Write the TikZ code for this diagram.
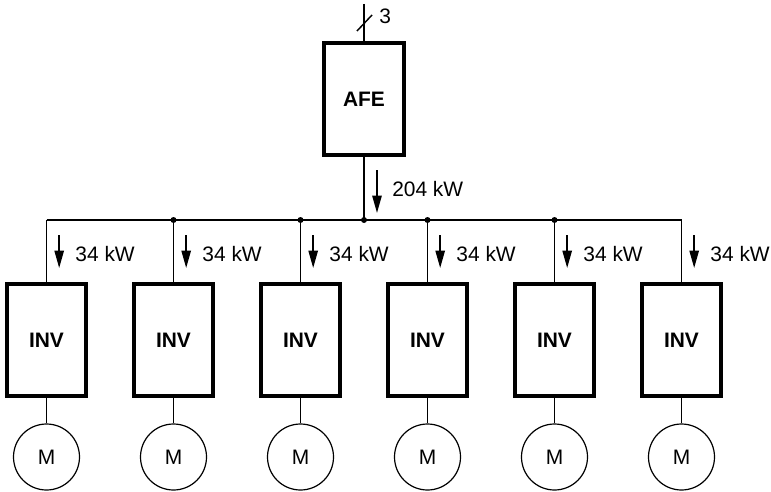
\documentclass[tikz,border=0pt]{standalone}
\usepackage{fontspec}
\setmainfont{Liberation Sans}
\usetikzlibrary{arrows.meta}

\begin{document}
\begin{tikzpicture}[x=0.75pt,y=-0.75pt,
  font=\fontsize{15.7}{18}\selectfont,
  unitbox/.style={draw, line width=2.4pt, minimum height=84pt, inner sep=0pt, font=\fontsize{15.7}{18}\selectfont\bfseries},
  motor/.style={draw, circle, line width=0.9pt, minimum size=49.5pt, inner sep=0pt},
  flow/.style={line width=1.2pt, -{Triangle[length=13pt,width=7pt]}},
  dot/.style={fill, circle, inner sep=0pt, minimum size=4.5pt}]
\useasboundingbox (0,0) rectangle (771,492);
\node[unitbox, minimum width=60pt] (afe) at (364,99) {AFE};
\coordinate (bus) at (364,220);
\coordinate (feed) at (364,4);
\foreach \x [count=\i] in {46.5,173.5,300.5,427.5,554.5,681.5}{
  \node[unitbox, minimum width=59.25pt] (inv\i) at (\x,340) {INV};
  \node[motor] (m\i) at (\x,457) {M};
  \draw[line width=1.1pt] (inv\i.south) -- (m\i.north);
  \draw[line width=1.1pt] (inv\i.north) -- (inv\i.north |- bus);
  \draw[flow] ([xshift=9.5pt]inv\i.north |- 0,235) -- ([xshift=9.5pt]inv\i.north |- 0,268);
  \node[anchor=west, inner sep=0pt] (p\i) at ([xshift=21.5pt]inv\i.north |- 0,254) {34 kW};
}
\draw[line width=1.1pt] (inv1.north |- bus) -- (inv6.north |- bus);
\draw[line width=1.1pt] (afe.south) -- (bus);
\draw[line width=1.1pt] (feed) -- (afe.north);
\draw[line width=1.1pt] (357,31) -- (372,15);
\node[anchor=west, inner sep=0pt] (ph) at (379,16) {3};
\draw[flow] (377,170) -- (377,213);
\node[anchor=west, inner sep=0pt] (ptot) at (392,189) {204 kW};
\node[dot] (j0) at (bus) {};
\foreach \i in {2,3,4,5}{
  \node[dot] (j\i) at (inv\i.north |- bus) {};
}
\end{tikzpicture}
\end{document}
